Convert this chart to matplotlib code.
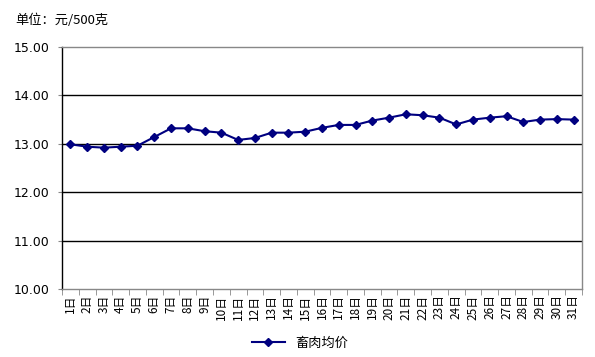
import matplotlib
matplotlib.use("Agg")
import matplotlib.pyplot as plt
from matplotlib.ticker import FixedLocator

plt.rcParams['font.family'] = ['Noto Sans CJK SC', 'DejaVu Sans']

days = [str(i) + "日" for i in range(1, 32)]
prices = [12.99, 12.94, 12.92, 12.94, 12.96, 13.14, 13.32, 13.32, 13.26, 13.23,
          13.08, 13.12, 13.23, 13.23, 13.25, 13.33, 13.39, 13.39, 13.48, 13.54,
          13.61, 13.59, 13.54, 13.40, 13.50, 13.54, 13.57, 13.45, 13.50, 13.51,
          13.50]
yticks = [10, 11, 12, 13, 14, 15]

fig = plt.figure(figsize=(5.95, 3.57), dpi=100)
ax = fig.add_axes([62 / 595, 1 - 289 / 357, 520 / 595, 242 / 357])

x = list(range(len(days)))
ax.plot(x, prices, color='#000080', marker='D', markersize=4.5, linewidth=1.5,
        label="畜肉均价")

ax.set_xlim(-0.5, len(days) - 0.5)
ax.set_ylim(10, 15)

# 网格线
for v in yticks[1:-1]:
    ax.axhline(v, color='black', linewidth=1.0, zorder=0)

ax.set_yticks(yticks)
ax.set_yticklabels(["%.2f" % v for v in yticks], fontsize=9, family='DejaVu Sans')
ax.set_xticks(x)
ax.set_xticklabels(days, rotation=90, fontsize=8.5, va='top', ha='center')
ax.xaxis.set_minor_locator(FixedLocator([i - 0.5 for i in range(len(days) + 1)]))
ax.tick_params(axis='x', which='major', length=0, pad=4)
ax.tick_params(axis='x', which='minor', length=4, color='#888888', direction='out')
ax.tick_params(axis='y', length=3, color='#888888', direction='out', pad=6)

ax.spines['left'].set_color('black')
ax.spines['left'].set_linewidth(1.0)
for s in ['top', 'right', 'bottom']:
    ax.spines[s].set_color('#888888')
    ax.spines[s].set_linewidth(1.0)

fig.text(15 / 595, 1 - 20 / 357, "单位：元/500克", fontsize=9.5, va='center', ha='left')

fig.legend(loc='center', bbox_to_anchor=(300 / 595, 1 - 343 / 357), frameon=False,
           fontsize=9.5, handlelength=2.5)

fig.savefig("out.png", dpi=100)
